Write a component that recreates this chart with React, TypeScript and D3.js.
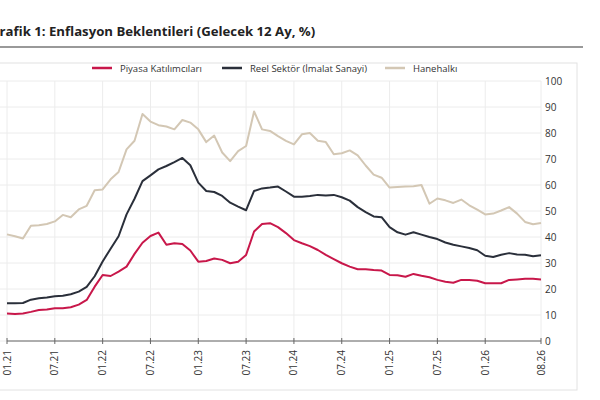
import React from "react";
import * as d3 from "d3";

const tickLabels = ["01.21","07.21","01.22","07.22","01.23","07.23","01.24","07.24","01.25","07.25","01.26","08.26"];
const tickIdx = [0,6,12,18,24,30,36,42,48,54,60,67];
const yTicks = [0,10,20,30,40,50,60,70,80,90,100];

const piyasa = [10.6,10.4,10.6,11.2,11.9,12.1,12.6,12.6,13,14,15.8,20.9,25.4,25,26.7,28.6,33.5,37.8,40.4,41.7,37,37.6,37.3,34.8,30.5,30.8,31.7,31.2,29.9,30.5,33.1,42.1,45,45.3,43.8,41.5,38.8,37.6,36.5,35,33.1,31.5,29.9,28.6,27.6,27.6,27.3,27.1,25.4,25.3,24.7,25.8,25.1,24.5,23.5,22.8,22.4,23.5,23.5,23.2,22.2,22.2,22.2,23.5,23.7,23.9,23.9,23.7];
const reel = [14.5,14.5,14.6,15.9,16.4,16.7,17.2,17.4,18,19,20.8,24.9,30.6,35.5,40.3,48.7,54.7,61.5,63.7,66,67.3,68.8,70.4,67.6,60.9,57.7,57.3,55.8,53.2,51.7,50.3,57.7,58.7,59,59.4,57.5,55.5,55.5,55.8,56.2,56,56.2,55.3,54,51.5,49.6,47.9,47.6,43.8,41.8,40.9,41.8,40.9,40,39.2,37.9,37,36.4,35.8,34.9,32.8,32.3,33.2,33.8,33.3,33.2,32.6,33];
const hane = [41,40.3,39.4,44.3,44.5,45,46,48.5,47.6,50.6,52,58,58.3,62.2,65,73.7,77,87.3,84.4,83,82.5,81.4,85,84,81.4,76.5,79,72.5,69.2,73,75,88.3,81.4,80.8,78.8,77,75.6,79.5,80,77,76.5,71.8,72.2,73.3,71.4,67.5,64,62.8,59,59.2,59.4,59.5,60,52.8,54.8,54.1,53.1,54.4,52.2,50.5,48.7,49,50.2,51.5,49,45.8,44.9,45.4];

const series = [
  { name: "Piyasa Katılımcıları", data: piyasa, color: "#c8174a", lx: 92 },
  { name: "Reel Sektör (İmalat Sanayi)", data: reel, color: "#2a2f3a", lx: 222 },
  { name: "Hanehalkı", data: hane, color: "#d3c7b4", lx: 385 },
];

export default function App() {
  const x = d3.scaleLinear().domain([0, 67]).range([7, 541]);
  const y = d3.scaleLinear().domain([0, 100]).range([341, 81]);
  const line = (d: number[]) => d3.line<number>().x((_, i) => x(i)).y(v => y(v))(d) || "";
  const font = "'Open Sans', sans-serif";
  return (
    <svg width={600} height={400} style={{ position: "absolute", left: 0, top: 0, background: "#fff" }} fontFamily={font}>
      <text x={-10} y={36} fontSize={13.2} fontWeight="bold" fill="#222">Grafik 1: Enflasyon Beklentileri (Gelecek 12 Ay, %)</text>
      <line x1={0} x2={583} y1={47} y2={47} stroke="#777" strokeWidth={1.5} />
      <rect x={-1} y={63} width={578} height={327} fill="none" stroke="#e2e2e2" />
      {tickIdx.map(i => <line key={"v"+i} x1={x(i)} x2={x(i)} y1={81} y2={341} stroke="#ececec" />)}
      {yTicks.map(t => <line key={"h"+t} x1={0} x2={541} y1={y(t)} y2={y(t)} stroke="#ececec" />)}
      {yTicks.map(t => <text key={"yl"+t} x={545} y={y(t) + 3.5} fontSize={10} fill="#333">{t}</text>)}
      <line x1={7} x2={541} y1={341} y2={341} stroke="#666" />
      {tickIdx.map((i, k) => (
        <g key={"t"+i}>
          <line x1={x(i)} x2={x(i)} y1={338} y2={344} stroke="#666" />
          <text transform={`translate(${x(i)+3.5},350) rotate(-90)`} textAnchor="end" fontSize={10} fill="#333">{tickLabels[k]}</text>
        </g>
      ))}
      {series.map(s => (
        <g key={s.name}>
          <path d={line(s.data)} fill="none" stroke={s.color} strokeWidth={2} strokeLinejoin="round" />
          <line x1={s.lx} x2={s.lx + 20} y1={68} y2={68} stroke={s.color} strokeWidth={2.5} />
          <text x={s.lx + 28} y={71.5} fontSize={9.5} fill="#333">{s.name}</text>
        </g>
      ))}
    </svg>
  );
}
